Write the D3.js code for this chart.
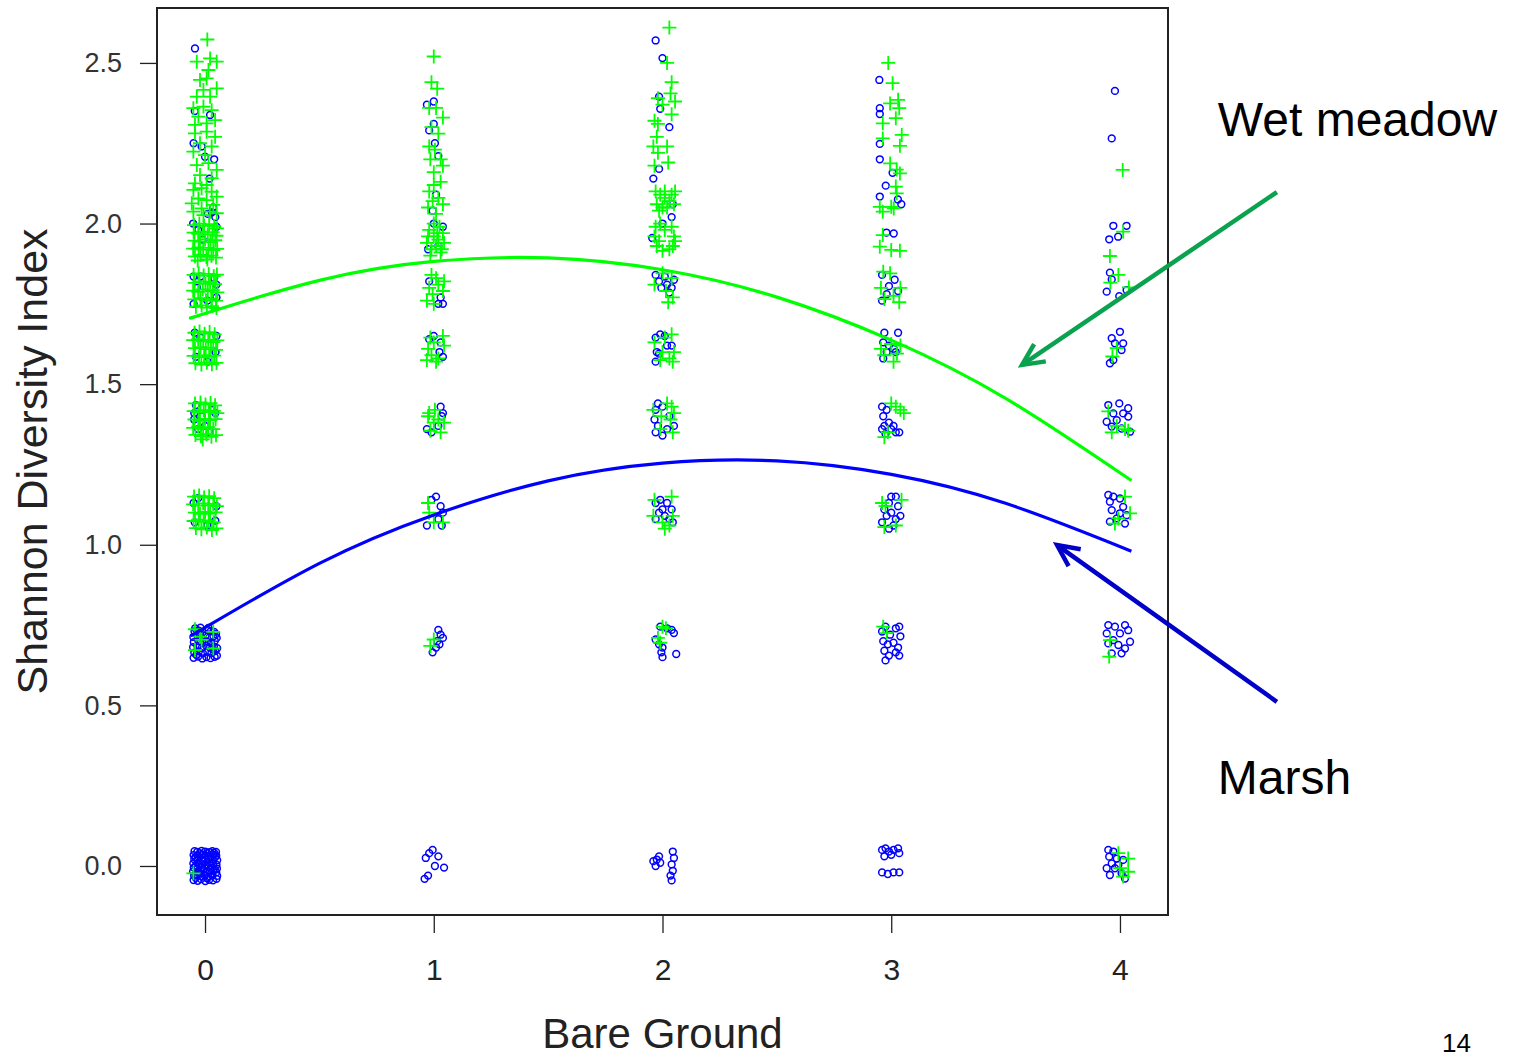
<!DOCTYPE html>
<html>
<head>
<meta charset="utf-8">
<script src="https://cdn.jsdelivr.net/npm/d3@7"></script>
<style>
  html, body { margin: 0; padding: 0; background: #fff; }
  svg { display: block; }
  text { font-family: "Liberation Sans", Arial, Helvetica, sans-serif; }
</style>
</head>
<body>
<svg id="chart" width="1518" height="1058"></svg>
<script>
// Axis ticks
const xTicks = [0, 1, 2, 3, 4];
const yTicks = [0, 0.5, 1.0, 1.5, 2.0, 2.5];

// Marsh plots: [bare ground (jittered), Shannon index (jittered)]
const marsh = [
  // bare ground 0
  [-0.05,-0.044],[-0.032,-0.046],[-0.017,-0.041],[0.001,-0.047],[0.018,-0.043],[0.035,-0.045],[0.05,-0.04],
  [-0.048,-0.03],[-0.035,-0.028],[-0.014,-0.033],[-0.002,-0.029],[0.015,-0.034],[0.033,-0.03],[0.053,-0.031],
  [-0.052,-0.017],[-0.031,-0.02],[-0.018,-0.016],[0.003,-0.021],[0.019,-0.018],[0.036,-0.015],[0.049,-0.02],
  [-0.049,-0.005],[-0.034,-0.008],[-0.015,-0.004],[-0.001,-0.007],[0.016,-0.003],[0.032,-0.006],[0.052,-0.008],
  [-0.051,0.008],[-0.03,0.006],[-0.017,0.009],[0.002,0.005],[0.018,0.01],[0.035,0.007],[0.05,0.004],
  [-0.047,0.021],[-0.033,0.018],[-0.016,0.022],[0.0,0.019],[0.014,0.023],[0.034,0.02],[0.053,0.018],
  [-0.05,0.034],[-0.032,0.031],[-0.013,0.036],[0.003,0.033],[0.017,0.03],[0.036,0.035],[0.049,0.032],
  [-0.046,0.046],[-0.034,0.044],[-0.015,0.047],[0.001,0.045],[0.02,0.043],[0.032,0.046],[0.048,0.044],
  [-0.041,-0.037],[-0.024,-0.024],[0.008,-0.038],[0.026,-0.025],[0.043,-0.011],[-0.04,0.001],[-0.008,0.014],
  [0.027,0.002],[0.044,0.027],[-0.024,0.04],[0.01,0.04],[0.04,0.041],[-0.042,0.027],[-0.006,-0.012],
  [-0.05,0.648],[-0.03,0.652],[-0.012,0.646],[0.006,0.65],[0.024,0.647],[0.042,0.651],[0.052,0.655],
  [-0.047,0.664],[-0.027,0.668],[-0.009,0.662],[0.01,0.667],[0.028,0.663],[0.045,0.669],
  [-0.052,0.681],[-0.033,0.684],[-0.014,0.679],[0.004,0.686],[0.021,0.68],[0.039,0.683],[0.053,0.678],
  [-0.049,0.697],[-0.029,0.7],[-0.011,0.695],[0.008,0.699],[0.026,0.694],[0.043,0.701],
  [-0.051,0.713],[-0.032,0.716],[-0.016,0.711],[0.002,0.717],[0.02,0.712],[0.037,0.715],[0.051,0.71],
  [-0.046,0.73],[-0.028,0.733],[-0.01,0.728],[0.009,0.735],[0.025,0.731],[0.04,0.729],
  [-0.043,0.74],[-0.02,0.742],[0.015,0.741],[-0.038,0.657],[0.035,0.674],[-0.021,0.722],[0.048,0.722],
  [-0.045,1.07],[0.05,1.12],[0.045,1.075],[-0.03,1.145],[0.01,1.06],[-0.05,1.13],
  [-0.04,1.435],[-0.047,1.41],[-0.03,1.36],[0.045,1.41],[0.02,1.35],[-0.048,1.39],[0.0,1.37],[0.03,1.42],[-0.015,1.40],
  [-0.04,1.585],[0.05,1.65],[-0.02,1.645],[0.046,1.6],[-0.045,1.66],[0.012,1.57],
  [-0.05,1.835],[-0.02,1.835],[0.04,1.83],[0.05,1.77],[-0.035,1.8],[0.01,1.76],[0.05,1.81],[-0.05,1.75],
  [-0.052,2.0],[0.05,1.99],[0.04,2.2],[0.02,2.14],[-0.045,2.35],[-0.044,2.545],[0.035,2.05],[-0.01,1.95],
  [0.022,2.338],[-0.015,2.24],[0.0,2.208],[-0.05,2.25],[0.012,2.03],[0.03,2.035],[0.045,2.02],[-0.03,1.98],
  // bare ground 1
  [0.98,0.04],[0.995,0.05],[0.965,0.025],[1.02,0.03],[1.045,-0.005],[1.005,0.0],[0.975,-0.03],[0.96,-0.04],
  [1.02,0.735],[1.03,0.72],[1.04,0.71],[1.025,0.69],[1.01,0.68],[0.995,0.665],[1.015,0.70],
  [0.99,1.14],[1.01,1.15],[1.03,1.12],[1.04,1.10],[1.02,1.08],[0.97,1.06],[1.035,1.06],
  [0.97,1.36],[0.99,1.35],[1.03,1.43],[1.035,1.40],[1.02,1.37],[1.04,1.41],
  [0.98,1.64],[1.0,1.65],[1.025,1.6],[1.04,1.585],[1.03,1.63],
  [1.02,1.75],[1.04,1.75],[1.03,1.77],[0.98,1.82],
  [1.0,2.0],[1.04,1.99],[0.975,1.92],[1.02,1.93],
  [1.01,2.09],[0.995,2.04],[1.02,2.21],[0.98,2.29],[1.0,2.31],[1.0,2.38],[0.97,2.37],[1.005,2.25],
  // bare ground 2
  [1.96,0.015],[1.975,0.02],[1.97,0.0],[1.99,0.01],[1.985,0.03],[2.045,0.045],[2.05,0.025],[2.04,0.005],[2.045,-0.015],[2.035,-0.03],[2.04,-0.045],
  [1.99,0.745],[2.02,0.74],[2.04,0.735],[2.05,0.725],[1.97,0.705],[1.985,0.69],[2.0,0.68],[1.995,0.665],[2.0,0.65],[2.06,0.66],
  [1.97,1.13],[1.99,1.14],[2.02,1.13],[2.04,1.11],[1.985,1.10],[2.01,1.09],[2.03,1.08],[1.97,1.08],[2.0,1.11],[2.045,1.07],
  [1.97,1.42],[1.98,1.44],[2.0,1.43],[1.965,1.39],[1.98,1.37],[1.97,1.35],[2.03,1.40],[2.02,1.36],[2.05,1.37],[2.0,1.34],
  [1.97,1.645],[1.99,1.655],[2.01,1.65],[1.975,1.6],[1.985,1.595],[2.02,1.62],[2.04,1.62],[1.97,1.57],
  [1.97,1.84],[1.985,1.82],[2.01,1.835],[2.02,1.81],[2.04,1.8],[1.995,1.8],[2.03,1.785],[2.05,1.825],
  [1.97,2.57],[2.0,2.515],[1.985,2.395],[1.99,2.357],[2.03,2.30],[1.985,2.17],[1.96,2.14],[2.045,2.06],[1.955,1.955],[2.0,2.0],[2.04,2.02],
  // bare ground 3
  [2.96,0.05],[2.975,0.055],[2.99,0.045],[3.01,0.05],[3.03,0.055],[3.035,0.04],[2.97,0.03],[3.0,0.035],[2.96,-0.02],[2.985,-0.025],[3.01,-0.02],[3.035,-0.02],
  [2.96,0.73],[2.975,0.745],[2.995,0.72],[3.02,0.74],[3.035,0.745],[3.04,0.715],[2.965,0.7],[2.985,0.69],[3.01,0.695],[3.03,0.68],[2.97,0.67],[2.99,0.655],[3.02,0.665],[3.035,0.655],[2.975,0.64],
  [3.0,1.15],[3.02,1.15],[2.99,1.13],[3.03,1.12],[2.97,1.11],[3.0,1.1],[2.98,1.09],[3.02,1.08],[3.04,1.09],[2.96,1.07],[3.01,1.06],[2.99,1.05],
  [2.96,1.43],[2.98,1.42],[2.965,1.4],[2.99,1.38],[2.97,1.37],[3.0,1.36],[3.02,1.35],[3.035,1.35],[2.975,1.345],[3.01,1.37],[2.96,1.36],
  [2.97,1.66],[3.03,1.66],[2.965,1.63],[2.99,1.62],[3.01,1.61],[3.02,1.6],[2.98,1.6],[2.965,1.58],
  [2.96,1.84],[3.015,1.825],[2.99,1.805],[3.03,1.79],[2.98,1.78],[2.96,1.76],
  [2.948,2.447],[2.95,2.359],[2.95,2.341],[2.95,2.248],[2.95,2.2],[3.006,2.158],[2.976,2.118],[2.95,2.084],[3.029,2.075],[3.044,2.06],[2.979,1.972],[3.011,1.969],
  // bare ground 4
  [3.949,0.05],[3.971,0.045],[3.953,0.029],[3.986,0.023],[3.964,0.008],[3.942,-0.007],[3.978,-0.007],[4.014,0.019],[3.956,-0.028],[4.007,-0.023],[4.022,-0.039],[3.993,0.003],
  [3.949,0.75],[3.978,0.745],[4.022,0.75],[4.036,0.734],[3.942,0.724],[4.0,0.724],[3.971,0.703],[4.044,0.698],[3.993,0.688],[4.022,0.677],[4.007,0.662],[3.964,0.662],[3.949,0.693],
  [3.949,1.155],[3.971,1.15],[4.0,1.144],[3.956,1.134],[4.014,1.118],[3.964,1.108],[4.0,1.098],[4.029,1.092],[3.956,1.072],[3.986,1.082],[4.022,1.066],
  [3.949,1.435],[3.997,1.44],[4.036,1.425],[3.971,1.409],[4.014,1.409],[3.942,1.383],[3.986,1.388],[4.036,1.399],[3.964,1.368],[4.007,1.362],[4.044,1.352],
  [3.964,1.643],[4.0,1.663],[3.978,1.627],[4.014,1.627],[4.007,1.606],[3.971,1.575],[3.956,1.565],
  [3.956,1.847],[3.964,1.826],[3.942,1.788],[3.997,1.774],[4.029,1.793],[3.971,1.993],[4.029,1.993],[3.953,1.951],[3.992,1.959],[3.964,2.265],[3.978,2.413]
];

// Wet meadow plots: [bare ground (jittered), Shannon index (jittered)]
const wetMeadow = [
  // bare ground 0
  [0.03,2.69],[0.01,2.573],
  [-0.036,2.504],[0.022,2.514],[0.051,2.504],[0.015,2.478],[-0.022,2.447],[0.007,2.452],[0.051,2.421],[-0.036,2.395],[0.022,2.395],[-0.007,2.416],
  [-0.051,2.359],[-0.007,2.364],[0.029,2.353],[-0.029,2.333],[0.044,2.322],[0.007,2.312],[-0.044,2.307],
  [-0.044,2.281],[0.007,2.286],[0.044,2.27],[-0.022,2.25],[0.029,2.24],[-0.051,2.224],[0.0,2.213],
  [-0.036,2.182],[0.015,2.188],[0.051,2.167],[-0.022,2.151],[0.029,2.141],[-0.044,2.125],[0.007,2.12],
  [-0.051,2.105],[-0.015,2.11],[0.029,2.099],[0.051,2.084],[-0.029,2.078],[0.007,2.073],[-0.058,2.063],
  [0.036,2.058],[-0.015,2.047],[-0.051,2.037],[0.022,2.037],[-0.007,2.026],[0.051,2.032],
  [-0.048,1.995],[-0.025,2.0],[-0.004,1.993],[0.018,1.998],[0.04,1.992],[0.052,1.985],
  [-0.05,1.972],[-0.03,1.968],[-0.01,1.975],[0.012,1.966],[0.033,1.973],[0.05,1.962],
  [-0.046,1.947],[-0.022,1.944],[0.0,1.951],[0.024,1.942],[0.045,1.948],
  [-0.052,1.922],[-0.028,1.926],[-0.008,1.919],[0.015,1.924],[0.036,1.917],[0.053,1.921],
  [-0.044,1.898],[-0.02,1.902],[0.006,1.896],[0.028,1.9],[0.048,1.894],[-0.032,1.885],[0.01,1.888],
  [-0.05,1.84],[-0.028,1.845],[-0.006,1.838],[0.016,1.843],[0.038,1.836],[0.052,1.841],
  [-0.045,1.815],[-0.024,1.82],[0.002,1.812],[0.022,1.818],[0.044,1.811],
  [-0.052,1.791],[-0.03,1.787],[-0.01,1.795],[0.012,1.789],[0.034,1.793],[0.054,1.786],
  [-0.047,1.764],[-0.02,1.768],[0.004,1.761],[0.027,1.766],[0.048,1.76],
  [-0.04,1.741],[-0.015,1.745],[0.008,1.738],[0.03,1.743],[0.05,1.737],
  [-0.046,1.66],[-0.024,1.664],[-0.002,1.657],[0.02,1.662],[0.042,1.655],
  [-0.052,1.637],[-0.03,1.64],[-0.008,1.633],[0.014,1.638],[0.036,1.631],[0.054,1.636],
  [-0.044,1.612],[-0.02,1.615],[0.003,1.609],[0.026,1.614],[0.048,1.607],
  [-0.05,1.588],[-0.027,1.584],[-0.004,1.59],[0.018,1.585],[0.04,1.589],
  [-0.042,1.565],[-0.016,1.561],[0.008,1.567],[0.03,1.562],[0.05,1.566],
  [-0.044,1.44],[-0.02,1.443],[0.002,1.437],[0.024,1.441],[0.044,1.434],
  [-0.05,1.416],[-0.028,1.412],[-0.006,1.419],[0.016,1.413],[0.038,1.417],[0.054,1.41],
  [-0.046,1.39],[-0.022,1.386],[0.0,1.392],[0.022,1.387],[0.046,1.391],
  [-0.052,1.364],[-0.03,1.368],[-0.008,1.361],[0.014,1.366],[0.036,1.36],
  [-0.042,1.342],[-0.018,1.338],[0.006,1.344],[0.028,1.336],[0.048,1.341],[-0.01,1.328],
  [-0.048,1.15],[-0.026,1.153],[-0.004,1.147],[0.018,1.151],[0.04,1.145],
  [-0.052,1.126],[-0.03,1.122],[-0.008,1.129],[0.014,1.123],[0.036,1.127],[0.052,1.12],
  [-0.044,1.1],[-0.022,1.096],[0.0,1.102],[0.022,1.097],[0.046,1.101],
  [-0.05,1.074],[-0.028,1.078],[-0.006,1.071],[0.016,1.076],[0.038,1.07],
  [-0.04,1.052],[-0.016,1.048],[0.008,1.054],[0.03,1.046],[0.05,1.051],
  [-0.044,0.737],[0.036,0.729],[-0.022,0.714],[-0.044,0.672],[0.036,0.677],[-0.015,0.704],
  [-0.051,-0.023],
  // bare ground 1
  [0.985,0.685],[1.0,0.705],
  [0.98,1.10],[1.0,1.07],[1.04,1.07],[0.975,1.13],
  [0.98,1.41],[1.0,1.38],[0.985,1.355],[1.02,1.39],[1.045,1.38],[1.005,1.42],[0.975,1.40],[1.03,1.35],
  [0.975,1.61],[0.99,1.59],[1.01,1.57],[1.045,1.62],[1.0,1.63],[1.02,1.58],[0.985,1.645],[1.04,1.65],[0.97,1.575],
  [0.98,1.8],[0.995,1.78],[1.01,1.83],[1.04,1.79],[0.97,1.76],[1.02,1.81],[1.0,1.75],[1.045,1.82],[0.99,1.84],
  [0.98,1.98],[1.0,1.96],[1.02,1.95],[1.04,1.97],[0.97,1.94],[0.99,1.92],[1.01,1.93],[1.03,1.91],
  [1.045,1.94],[0.985,1.9],[1.0,2.0],[1.025,1.99],[1.035,1.92],[0.975,1.96],[1.015,1.97],
  [0.98,2.1],[1.0,2.12],[1.02,2.08],[1.04,2.06],[0.975,2.05],[1.01,2.03],[1.03,2.13],[0.995,2.07],
  [0.985,2.2],[1.005,2.23],[1.03,2.2],[1.0,2.16],[1.04,2.18],[0.98,2.24],
  [0.99,2.3],[1.01,2.36],[1.04,2.33],[0.98,2.36],[1.02,2.28],
  [1.0,2.52],[0.99,2.44],[1.015,2.42],
  // bare ground 2
  [2.0,0.745],[2.015,0.74],[1.98,0.71],[1.99,0.695],
  [1.965,1.14],[2.04,1.15],[1.96,1.09],[2.0,1.07],[2.03,1.06],[2.045,1.09],[2.01,1.05],
  [2.02,1.44],[2.04,1.43],[2.05,1.41],[2.035,1.39],[1.995,1.40],[2.045,1.35],[1.99,1.36],[1.96,1.42],
  [2.01,1.645],[2.04,1.655],[2.05,1.6],[2.03,1.58],[2.045,1.57],[1.965,1.63],[2.0,1.6],[1.99,1.575],
  [1.965,1.81],[2.0,1.845],[2.04,1.83],[2.015,1.79],[2.045,1.77],[2.025,1.755],
  [1.97,1.99],[1.99,2.0],[2.01,1.98],[2.04,1.99],[2.05,1.96],[2.045,1.93],[2.03,1.92],[2.0,1.915],[1.975,1.93],[1.965,1.96],[1.985,1.945],[2.055,1.945],
  [1.97,2.1],[1.99,2.09],[2.01,2.08],[2.03,2.07],[2.05,2.06],[1.975,2.06],[2.0,2.05],[2.02,2.05],[2.04,2.09],[1.985,2.04],[2.055,2.1],[2.01,2.1],
  [2.03,2.61],[2.02,2.5],[2.04,2.44],[2.035,2.405],[1.98,2.39],[2.0,2.37],[2.055,2.38],[2.04,2.34],
  [1.965,2.32],[1.98,2.31],[1.975,2.27],[1.96,2.24],[2.02,2.24],[1.98,2.22],[2.025,2.19],[1.965,2.18],
  // bare ground 3
  [2.965,0.745],[2.98,0.725],
  [2.96,1.13],[2.975,1.12],[3.045,1.14],[3.02,1.06],[2.97,1.055],
  [3.0,1.44],[3.02,1.43],[3.04,1.42],[3.055,1.41],[2.985,1.35],[2.97,1.335],
  [2.955,1.61],[3.0,1.625],[3.04,1.62],[3.025,1.595],[2.97,1.59],[3.01,1.57],
  [2.965,1.85],[2.995,1.845],[2.955,1.8],[3.04,1.8],[3.01,1.775],[2.97,1.765],[3.035,1.755],
  [2.987,2.50],[3.006,2.437],[2.995,2.374],[3.03,2.385],[3.035,2.359],[3.02,2.328],[2.963,2.312],[3.046,2.276],
  [3.038,2.242],[2.963,2.265],[2.995,2.187],[3.038,2.156],[3.024,2.168],[3.02,2.115],[3.024,2.094],[2.95,2.052],
  [3.0,2.052],[2.963,2.037],[3.011,2.047],[2.963,1.964],[2.95,1.928],[3.0,1.918],[3.038,1.915],
  // bare ground 4
  [3.993,0.04],[4.036,0.023],[4.0,-0.007],[4.036,-0.018],[4.014,-0.033],
  [3.956,0.703],[3.953,0.652],
  [4.022,1.15],[4.044,1.098],[3.993,1.082],[3.978,1.066],
  [3.949,1.415],[3.986,1.37],[4.022,1.36],[3.964,1.35],[4.036,1.355],
  [3.986,1.612],[3.967,1.586],
  [4.014,1.975],[3.956,1.899],[3.993,1.84],[3.958,1.816],[4.039,1.801],[4.012,2.167]
];

// Fitted quadratic trends, sampled along bare ground
const wetMeadowFit = [[-0.035,1.712],[0,1.72],[0.5,1.823],[1,1.882],[1.5,1.893],[2,1.856],[2.5,1.771],[3,1.637],[3.5,1.456],[4.05,1.2]];
const marshFit = [[-0.02,0.735],[0,0.742],[0.5,0.942],[1,1.093],[1.5,1.199],[2,1.254],[2.5,1.261],[3,1.219],[3.5,1.129],[4.05,0.98]];

// Callout labels with arrow tail and head, in data units
const callouts = [
  { label: "Wet meadow", color: "#0aa14f", tail: [4.686, 2.098], head: [3.572, 1.56], text: [4.428, 2.273] },
  { label: "Marsh",      color: "#0000c8", tail: [4.686, 0.511], head: [3.725, 0.999], text: [4.428, 0.224] }
];

const svg = d3.select("#chart");
const frame = { left: 157, right: 1168, top: 8, bottom: 915 };

const x = d3.scaleLinear().domain([-0.21, 4.21]).range([frame.left, frame.right]);
const y = d3.scaleLinear().domain([-0.1526, 2.671]).range([frame.bottom, frame.top]);

svg.append("rect").attr("width", 1518).attr("height", 1058).attr("fill", "#fff");

svg.append("defs").append("clipPath").attr("id", "plot-clip")
  .append("rect")
  .attr("x", frame.left).attr("y", frame.top)
  .attr("width", frame.right - frame.left).attr("height", frame.bottom - frame.top);

// Axes
const yAxis = d3.axisLeft(y).tickValues(yTicks).tickFormat(d3.format(".1f")).tickSize(17).tickPadding(18);
const xAxis = d3.axisBottom(x).tickValues(xTicks).tickFormat(d3.format("d")).tickSize(18).tickPadding(26);

const gy = svg.append("g").attr("transform", `translate(${frame.left},0)`).call(yAxis);
gy.select(".domain").remove();
gy.selectAll(".tick line").attr("stroke", "#222").attr("stroke-width", 1.3);
gy.selectAll(".tick text").attr("fill", "#333").attr("font-size", 27).attr("font-family", "Liberation Sans, Arial, sans-serif");

const gx = svg.append("g").attr("transform", `translate(0,${frame.bottom})`).call(xAxis);
gx.select(".domain").remove();
gx.selectAll(".tick line").attr("stroke", "#222").attr("stroke-width", 1.3);
gx.selectAll(".tick text").attr("fill", "#222").attr("font-size", 30).attr("font-family", "Liberation Sans, Arial, sans-serif");

// Points
const plot = svg.append("g").attr("clip-path", "url(#plot-clip)");

plot.append("g").selectAll("circle").data(marsh).join("circle")
  .attr("cx", d => x(d[0])).attr("cy", d => y(d[1])).attr("r", 3.4)
  .attr("fill", "none").attr("stroke", "#0000ff").attr("stroke-width", 1.5);

plot.append("g").selectAll("path").data(wetMeadow).join("path")
  .attr("transform", d => `translate(${x(d[0])},${y(d[1])})`)
  .attr("d", "M-7,0H7M0,-7V7")
  .attr("stroke", "#00ff00").attr("stroke-width", 1.8).attr("fill", "none");

// Trend lines
const line = d3.line().x(d => x(d[0])).y(d => y(d[1])).curve(d3.curveNatural);
plot.append("path").datum(wetMeadowFit).attr("d", line)
  .attr("fill", "none").attr("stroke", "#00ff00").attr("stroke-width", 3.2);
plot.append("path").datum(marshFit).attr("d", line)
  .attr("fill", "none").attr("stroke", "#0000ff").attr("stroke-width", 3.2);

// Frame
svg.append("rect")
  .attr("x", frame.left).attr("y", frame.top)
  .attr("width", frame.right - frame.left).attr("height", frame.bottom - frame.top)
  .attr("fill", "none").attr("stroke", "#222").attr("stroke-width", 2);

// Axis titles
svg.append("text")
  .attr("x", (frame.left + frame.right) / 2).attr("y", 1048)
  .attr("text-anchor", "middle").attr("font-size", 42).attr("fill", "#222")
  .text("Bare Ground");

svg.append("text")
  .attr("transform", `translate(47,${(frame.top + frame.bottom) / 2}) rotate(-90)`)
  .attr("text-anchor", "middle").attr("font-size", 43).attr("fill", "#222")
  .text("Shannon Diversity Index");

// Callouts
const cg = svg.append("g");
callouts.forEach(c => {
  const x1 = x(c.tail[0]), y1 = y(c.tail[1]), x2 = x(c.head[0]), y2 = y(c.head[1]);
  const ang = Math.atan2(y2 - y1, x2 - x1);
  const len = 24, spread = Math.PI / 7;
  cg.append("line").attr("x1", x1).attr("y1", y1).attr("x2", x2).attr("y2", y2)
    .attr("stroke", c.color).attr("stroke-width", 4.5);
  const a1 = ang + Math.PI - spread, a2 = ang + Math.PI + spread;
  cg.append("path")
    .attr("d", `M${x2 + len * Math.cos(a1)},${y2 + len * Math.sin(a1)}L${x2},${y2}L${x2 + len * Math.cos(a2)},${y2 + len * Math.sin(a2)}`)
    .attr("fill", "none").attr("stroke", c.color).attr("stroke-width", 4.5).attr("stroke-linejoin", "miter");
  cg.append("text").attr("x", x(c.text[0])).attr("y", y(c.text[1]))
    .attr("font-size", 48).attr("fill", "#000").text(c.label);
});

// Page number
svg.append("text").attr("x", 1442).attr("y", 1052).attr("font-size", 26).attr("fill", "#000").text("14");
</script>
</body>
</html>
